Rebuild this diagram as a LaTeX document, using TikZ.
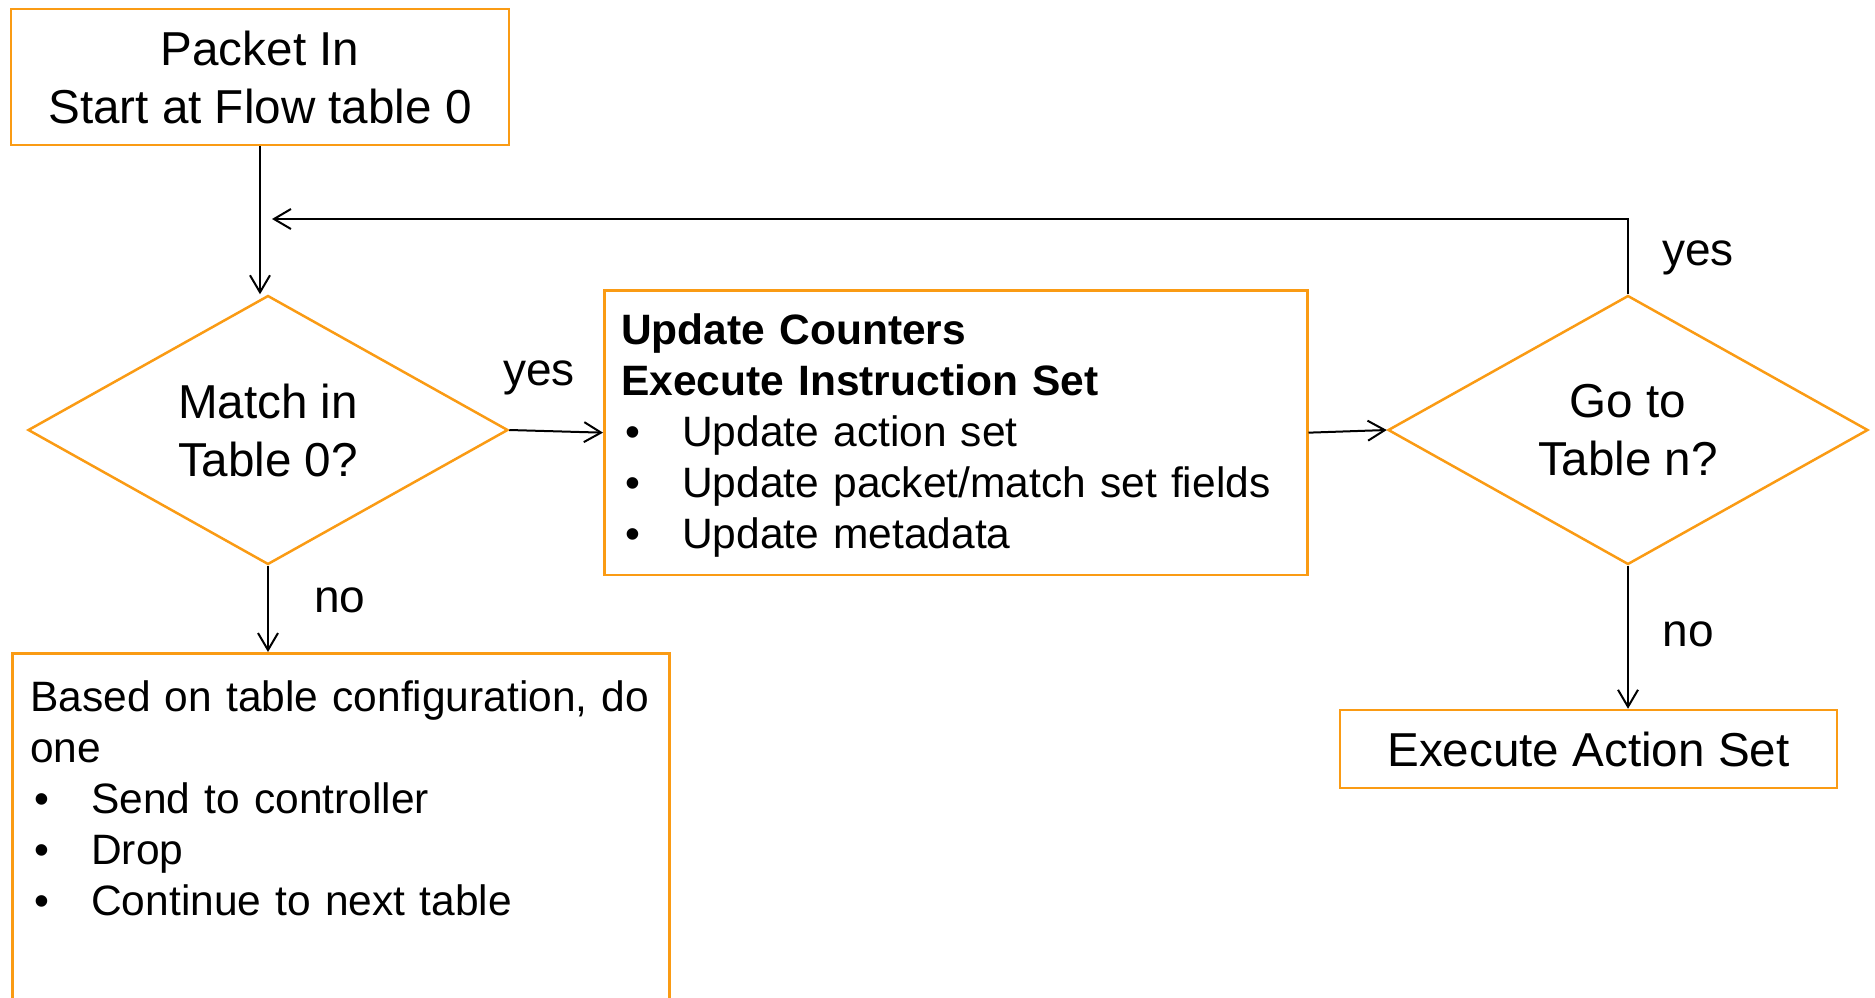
\documentclass[tikz,border=0pt]{standalone}
\usepackage{fontspec}
\setmainfont{Liberation Sans}
\usetikzlibrary{shapes.geometric,arrows.meta}
\definecolor{boxorange}{RGB}{250,155,20}
\newcommand{\bigtext}{\fontsize{23.8}{29}\selectfont}
\newcommand{\smalltext}{\fontsize{21.25}{25.5}\selectfont}
\newcommand{\bul}[1]{\makebox[30.5pt][l]{\hspace{2pt}\textbullet}#1}

\begin{document}
\begin{tikzpicture}[x=0.5pt,y=-0.5pt,
	box/.style={draw=boxorange,line width=1.25pt,rectangle,inner sep=0pt},
	dec/.style={draw=boxorange,line width=1.25pt,diamond,aspect=1.8,inner sep=0pt,minimum width=240pt,minimum height=134.5pt,font=\bigtext,align=center},
	arr/.style={-{Straight Barb[length=8.5pt,width=10pt]},line width=1pt},
	lbl/.style={inner sep=0pt,font=\fontsize{23}{27}\selectfont}]
	\clip (0,0) rectangle (1875,997);

	\node[box,minimum width=249pt,minimum height=68pt,font=\bigtext,align=center](start) at (260,77) {Packet In\\Start at Flow table 0};
	\node[dec](match) at (268,430) {Match in\\Table 0?};
	\node[dec](goto) at (1628,430) {Go to\\Table n?};
	\node[box,anchor=north west,text width=334.5pt,inner xsep=8.5pt,inner ysep=8.75pt,font=\smalltext,align=left](instr) at (603,289) {\rule{0pt}{18.5pt}\textbf{Update Counters}\\\textbf{Execute Instruction Set}\\\bul{Update action set}\\\bul{Update packet/match set fields}\\\bul{Update metadata}};
	\node[box,minimum width=248.5pt,minimum height=39pt,font=\bigtext](exec) at (1588.5,749) {Execute Action Set};
	\node[box,anchor=north west,text width=310.5pt,inner xsep=9pt,inner ysep=13.5pt,font=\smalltext,align=left](other) at (11,652) {Based on table configuration, do\\one\\\bul{Send to controller}\\\bul{Drop}\\\bul{Continue to next table}\\[40pt]\strut};

	\node[lbl](yes1) at (539,378) {yes};
	\node[lbl](no1) at (340,600) {no};
	\node[lbl](yes2) at (1698,258) {yes};
	\node[lbl](no2) at (1688,634) {no};

	\coordinate (back) at (272,219);

	\draw[arr](start.south) -- (start.south |- match.north);
	\draw[arr](match.east) -- (instr.west);
	\draw[arr](instr.east) -- (goto.west);
	\draw[arr](goto.north) |- (back);
	\draw[arr](goto.south) -- (goto.south |- exec.north);
	\draw[arr](match.south) -- (match.south |- other.north);
\end{tikzpicture}
\end{document}
